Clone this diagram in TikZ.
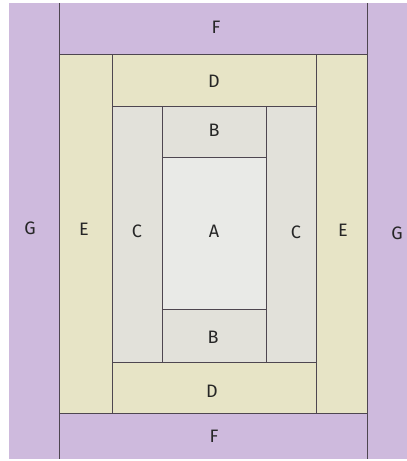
\documentclass[tikz,border=0pt]{standalone}
\usepackage{fontspec}
\setmainfont{Fira Sans}
\usetikzlibrary{positioning}

\definecolor{lilac}{RGB}{206,186,221}
\definecolor{straw}{RGB}{231,228,198}
\definecolor{pebble}{RGB}{226,225,218}
\definecolor{mist}{RGB}{233,234,231}
\definecolor{seam}{RGB}{78,70,80}

\begin{document}
\begin{tikzpicture}[
		x=1pt, y=-1pt,
		% Style for the fabric patches
		patch/.style={draw=none},
		% Style for the seams between patches
		seamline/.style={draw=seam, line width=0.9pt},
		% Style for the patch letters
		letter/.style={font=\fontsize{18}{18}\selectfont, text=black!85, inner sep=0pt}
		]
		
		\useasboundingbox (0,0) rectangle (407,461);
		\fill[white] (0,0) rectangle (407,461);
		
		% --- PATCHES ---
		
		% Round G and F (outer border)
		\fill[patch, lilac] (9,3) rectangle (407,459);
		% Round E and D
		\fill[patch, straw] (59,54) rectangle (367,413);
		% Round C and B
		\fill[patch, pebble] (112,106) rectangle (316,362);
		% Centre A
		\fill[patch, mist] (162,157) rectangle (266,309);
		
		% --- SEAMS ---
		
		% Outer round
		\draw[seamline] (59,3) -- (59,459);
		\draw[seamline] (367,3) -- (367,459);
		\draw[seamline] (59,54) -- (367,54);
		\draw[seamline] (59,413) -- (367,413);
		
		% Middle round
		\draw[seamline] (112,54) -- (112,413);
		\draw[seamline] (316,54) -- (316,413);
		\draw[seamline] (112,106) -- (316,106);
		\draw[seamline] (112,362) -- (317,362);
		
		% Inner round
		\draw[seamline] (162,106) -- (162,362);
		\draw[seamline] (266,106) -- (266,362);
		\draw[seamline] (162,157) -- (266,157);
		\draw[seamline] (162,309) -- (267,309);
		
		% --- LETTERS ---
		\node[letter] (A)  at (214,231) {A};
		\node[letter] (B1) at (214,130) {B};
		\node[letter] (B2) at (213,337) {B};
		\node[letter] (C1) at (137,231) {C};
		\node[letter] (C2) at (296,232) {C};
		\node[letter] (D1) at (214,81)  {D};
		\node[letter] (D2) at (212,391) {D};
		\node[letter] (E1) at (84,229)  {E};
		\node[letter] (E2) at (343,230) {E};
		\node[letter] (F1) at (216,27)  {F};
		\node[letter] (F2) at (214,436) {F};
		\node[letter] (G1) at (30,228)  {G};
		\node[letter] (G2) at (397,233) {G};
		
\end{tikzpicture}
\end{document}
